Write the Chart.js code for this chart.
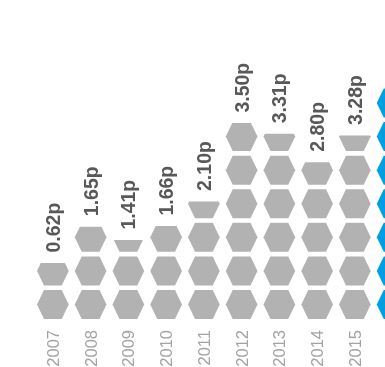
<!DOCTYPE html>
<html>
<head>
<meta charset="utf-8">
<style>
html, body { margin: 0; padding: 0; background: #fff; overflow: hidden; width: 385px; height: 367px; }
#wrap { position: relative; width: 430px; height: 367px; }
</style>
<script src="https://cdn.jsdelivr.net/npm/chart.js@4/dist/chart.umd.min.js"></script>
</head>
<body>
<div id="wrap"><canvas id="chart" width="430" height="367"></canvas></div>
<script>
const years = ['2007', '2008', '2009', '2010', '2011', '2012', '2013', '2014', '2015', '2016'];
// what is printed above each column (2016 runs off the picture)
const printedLabels = ['0.62p', '1.65p', '1.41p', '1.66p', '2.10p', '3.50p', '3.31p', '2.80p', '3.28p', ''];
// drawn heights in pence, 2007 is drawn taller than its label says in the original
const drawnValues = [1.0, 1.65, 1.41, 1.66, 2.10, 3.50, 3.31, 2.80, 3.28, 4.15];
const columnColors = ['#b2b2b2', '#b2b2b2', '#b2b2b2', '#b2b2b2', '#b2b2b2', '#b2b2b2', '#b2b2b2', '#b2b2b2', '#b2b2b2', '#009fe3'];
const penceAxisMax = 5.7;
const penceAxisStep = 0.6; // one hexagon

const hexColumns = {
    id: 'hexColumns',
    afterDatasetsDraw(chart) {
        const ctx = chart.ctx;
        const yScale = chart.scales.y;
        const bars = chart.getDatasetMeta(0).data;
        const pitch = yScale.getPixelForValue(0) - yScale.getPixelForValue(penceAxisStep);
        const hexHeight = pitch * 0.865;

        bars.forEach((bar, i) => {
            const halfW = bar.width / 2;
            const inset = halfW * 0.44;
            const top = bar.y;

            ctx.save();
            ctx.beginPath();
            ctx.rect(bar.x - halfW - 1, top, bar.width + 2, bar.base - top);
            ctx.clip();
            ctx.fillStyle = columnColors[i];
            for (let r = 0; r * penceAxisStep < drawnValues[i]; r++) {
                const b = yScale.getPixelForValue(r * penceAxisStep);
                ctx.beginPath();
                ctx.moveTo(bar.x - halfW, b - hexHeight / 2);
                ctx.lineTo(bar.x - halfW + inset, b - hexHeight);
                ctx.lineTo(bar.x + halfW - inset, b - hexHeight);
                ctx.lineTo(bar.x + halfW, b - hexHeight / 2);
                ctx.lineTo(bar.x + halfW - inset, b);
                ctx.lineTo(bar.x - halfW + inset, b);
                ctx.closePath();
                ctx.fill();
            }
            ctx.restore();

            // rotated value above the column
            ctx.save();
            ctx.translate(bar.x + 1.5, top - 10.5);
            ctx.rotate(-Math.PI / 2);
            ctx.font = 'bold 19.5px "Liberation Sans"';
            ctx.fillStyle = '#585858';
            ctx.textAlign = 'left';
            ctx.textBaseline = 'middle';
            ctx.fillText(printedLabels[i], 0, 0);
            ctx.restore();
        });
    }
};

new Chart(document.getElementById('chart').getContext('2d'), {
    type: 'bar',
    data: {
        labels: years,
        datasets: [{
            data: drawnValues,
            backgroundColor: 'rgba(0,0,0,0)',
            categoryPercentage: 1,
            barPercentage: 0.84
        }]
    },
    options: {
        responsive: false,
        animation: false,
        layout: { padding: { left: 34, right: 18.5, top: 0, bottom: 0 } },
        plugins: { legend: { display: false }, tooltip: { enabled: false } },
        scales: {
            x: {
                grid: { display: false, drawTicks: false },
                border: { display: false },
                afterFit: scale => { scale.height = 48; },
                ticks: {
                    minRotation: 90,
                    maxRotation: 90,
                    autoSkip: false,
                    padding: 11,
                    labelOffset: 1.5,
                    color: '#a3a3a3',
                    font: { family: '"Liberation Sans"', size: 16.5 }
                }
            },
            y: {
                display: false,
                min: 0,
                max: penceAxisMax,
                ticks: { stepSize: penceAxisStep }
            }
        }
    },
    plugins: [hexColumns]
});
</script>
</body>
</html>
